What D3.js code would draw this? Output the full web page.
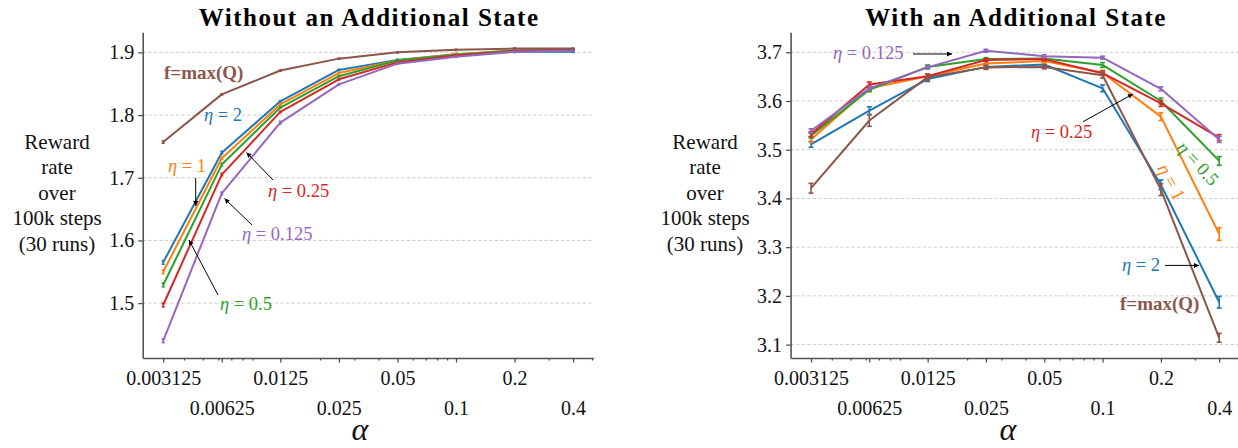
<!DOCTYPE html>
<html><head><meta charset="utf-8">
<script src="https://cdn.jsdelivr.net/npm/d3@7"></script>
<style>body{margin:0;background:#fff} svg{display:block} text{font-family:"Liberation Serif",serif}</style>
</head><body><svg id="c" width="1238" height="448"></svg>
<script>
// ---------- data ----------
const alphas = [0.003125, 0.00625, 0.0125, 0.025, 0.05, 0.1, 0.2, 0.4];
const alphaLabels = ["0.003125", "0.00625", "0.0125", "0.025", "0.05", "0.1", "0.2", "0.4"];
const minorTicks = [0.004, 0.005, 0.006, 0.007, 0.008, 0.009, 0.02, 0.03, 0.04, 0.06, 0.07, 0.08, 0.09, 0.3, 0.5];
const leftYTicks = [1.5, 1.6, 1.7, 1.8, 1.9];
const rightYTicks = [3.1, 3.2, 3.3, 3.4, 3.5, 3.6, 3.7];
const seriesNames = ["η = 2", "η = 1", "η = 0.5", "η = 0.25", "η = 0.125", "f=max(Q)"];
const seriesColors = ["#1f77b4", "#ff7f0e", "#2ca02c", "#d62728", "#9467bd", "#8c564b"];
const panelTitles = ["Without an Additional State", "With an Additional State"];
const yLabelLines = ["Reward", "rate", "over", "100k steps", "(30 runs)"];

// Without an additional state
const leftEta2    = [1.565, 1.740, 1.822, 1.872, 1.888, 1.897, 1.901, 1.901];
const leftEta1    = [1.550, 1.731, 1.817, 1.867, 1.887, 1.897, 1.903, 1.904];
const leftEta05   = [1.529, 1.721, 1.812, 1.862, 1.887, 1.896, 1.903, 1.904];
const leftEta025  = [1.497, 1.705, 1.805, 1.857, 1.884, 1.895, 1.902, 1.904];
const leftEta0125 = [1.440, 1.675, 1.788, 1.849, 1.882, 1.893, 1.901, 1.903];
const leftMaxQ    = [1.757, 1.833, 1.871, 1.890, 1.900, 1.904, 1.906, 1.906];
const leftErrEta2    = [0.003, 0.002, 0.001, 0.001, 0.001, 0.001, 0.001, 0.001];
const leftErrEta1    = [0.003, 0.002, 0.001, 0.001, 0.001, 0.001, 0.001, 0.001];
const leftErrEta05   = [0.003, 0.002, 0.001, 0.001, 0.001, 0.001, 0.001, 0.001];
const leftErrEta025  = [0.003, 0.002, 0.001, 0.001, 0.001, 0.001, 0.001, 0.001];
const leftErrEta0125 = [0.003, 0.002, 0.002, 0.001, 0.001, 0.001, 0.001, 0.001];
const leftErrMaxQ    = [0.002, 0.001, 0.001, 0.001, 0.001, 0.001, 0.001, 0.001];

// With an additional state
const rightEta2    = [3.511, 3.580, 3.645, 3.670, 3.675, 3.626, 3.428, 3.187];
const rightEta1    = [3.521, 3.626, 3.651, 3.677, 3.682, 3.658, 3.568, 3.327];
const rightEta05   = [3.529, 3.623, 3.670, 3.686, 3.687, 3.674, 3.600, 3.477];
const rightEta025  = [3.532, 3.634, 3.651, 3.684, 3.686, 3.657, 3.595, 3.525];
const rightEta0125 = [3.539, 3.626, 3.669, 3.703, 3.692, 3.689, 3.625, 3.521];
const rightMaxQ    = [3.421, 3.560, 3.649, 3.669, 3.670, 3.653, 3.418, 3.114];
const rightErrEta2    = [0.006, 0.008, 0.005, 0.004, 0.004, 0.007, 0.010, 0.012];
const rightErrEta1    = [0.006, 0.005, 0.004, 0.004, 0.004, 0.005, 0.008, 0.013];
const rightErrEta05   = [0.005, 0.004, 0.004, 0.003, 0.003, 0.005, 0.006, 0.009];
const rightErrEta025  = [0.005, 0.005, 0.004, 0.003, 0.003, 0.004, 0.006, 0.006];
const rightErrEta0125 = [0.004, 0.004, 0.003, 0.003, 0.003, 0.003, 0.004, 0.006];
const rightErrMaxQ    = [0.010, 0.012, 0.006, 0.004, 0.004, 0.006, 0.012, 0.009];

// ---------- drawing ----------
const svg = d3.select("#c");
const FONT = '"Liberation Serif", serif';
const defs = svg.append("defs");
defs.append("marker").attr("id", "ah").attr("viewBox", "0 0 10 10")
  .attr("refX", 10).attr("refY", 5).attr("markerWidth", 7).attr("markerHeight", 5)
  .attr("markerUnits", "userSpaceOnUse").attr("orient", "auto")
  .append("path").attr("d", "M0,0L10,5L0,10z").attr("fill", "#000");

const Y0 = 358, Y1 = 32.3;

function buildSeries(vals, errs) {
  return vals.map((v, i) => ({ name: seriesNames[i], color: seriesColors[i], values: v, errs: errs[i] }));
}

function panel(cfg) {
  const x = d3.scaleLog().base(2)
    .domain([alphas[0] * Math.pow(2, -0.35), alphas[alphas.length - 1] * Math.pow(2, 0.35)])
    .range(cfg.xr);
  const y = d3.scaleLinear().domain(cfg.yd).range([Y0, Y1]);
  const g = svg.append("g");

  // grid
  g.append("g").selectAll("line").data(cfg.yticks).join("line")
    .attr("x1", cfg.xr[0]).attr("x2", cfg.xr[1])
    .attr("y1", d => y(d)).attr("y2", d => y(d))
    .attr("stroke", "#cfcfcf").attr("stroke-width", 1).attr("stroke-dasharray", "3.5,2");

  // series
  const line = d3.line().x((d, i) => x(alphas[i])).y(d => y(d));
  cfg.series.forEach(s => {
    g.append("path").attr("d", line(s.values)).attr("fill", "none")
      .attr("stroke", s.color).attr("stroke-width", 2).attr("stroke-linejoin", "round");
    const eb = g.append("g").attr("stroke", s.color).attr("stroke-width", 1.6);
    s.values.forEach((v, i) => {
      const cx = x(alphas[i]), ya = y(v - s.errs[i]), yb = y(v + s.errs[i]);
      eb.append("line").attr("x1", cx).attr("x2", cx).attr("y1", ya).attr("y2", yb);
      eb.append("line").attr("x1", cx - cfg.cap).attr("x2", cx + cfg.cap).attr("y1", ya).attr("y2", ya);
      eb.append("line").attr("x1", cx - cfg.cap).attr("x2", cx + cfg.cap).attr("y1", yb).attr("y2", yb);
    });
  });

  // y axis
  const ya = g.append("g").attr("transform", `translate(${cfg.xr[0]},0)`)
    .call(d3.axisLeft(y).tickValues(cfg.yticks).tickFormat(d3.format(".1f"))
      .tickSize(4.5).tickSizeOuter(0).tickPadding(4));
  // minor x ticks
  const xm = g.append("g").attr("transform", `translate(0,${Y0})`)
    .call(d3.axisBottom(x).tickValues(minorTicks).tickFormat("").tickSize(2.5));
  xm.select(".domain").remove();
  // major x axis
  const xa = g.append("g").attr("transform", `translate(0,${Y0})`)
    .call(d3.axisBottom(x).tickValues(alphas).tickFormat((d, i) => alphaLabels[i])
      .tickSize(4.5).tickSizeOuter(0));
  xa.selectAll("text").attr("y", (d, i) => i % 2 === 0 ? 12.5 : 42.5).attr("dy", "0.71em");

  [ya, xa, xm].forEach(a => {
    a.attr("font-family", FONT).attr("font-size", 20);
    a.selectAll(".tick line").attr("stroke", "#444").attr("stroke-width", 1.2);
    a.selectAll("text").attr("fill", "#111");
    a.select(".domain").attr("stroke", "#555").attr("stroke-width", 1.6);
  });

  // title
  g.append("text").attr("x", (cfg.xr[0] + cfg.xr[1]) / 2 + 1).attr("y", 26)
    .attr("text-anchor", "middle").attr("font-weight", "bold").attr("font-size", 25)
    .attr("letter-spacing", "1.5px").attr("fill", "#000").text(cfg.title);

  // y label
  const yl = g.append("text").attr("text-anchor", "middle").attr("font-size", 21).attr("fill", "#111");
  yLabelLines.forEach((t, i) => {
    yl.append("tspan").attr("x", cfg.ylabX).attr("y", 148.5 + i * 25.6).text(t);
  });

  // x label
  g.append("text").attr("x", cfg.xlabX).attr("y", 440).attr("text-anchor", "middle")
    .attr("font-style", "italic").attr("font-size", 32).attr("fill", "#111").text("α");

  // annotations
  cfg.notes.forEach(n => {
    const t = g.append("text").attr("fill", seriesColors[n.s]).attr("font-size", 18.5);
    if (n.rot !== undefined) {
      t.attr("text-anchor", "middle").attr("dy", "0.35em")
        .attr("transform", `translate(${n.x},${n.y}) rotate(${n.rot})`);
    } else {
      t.attr("x", n.x).attr("y", n.y);
    }
    const name = seriesNames[n.s];
    if (name.startsWith("η")) {
      t.append("tspan").attr("font-style", "italic").text("η");
      t.append("tspan").text(name.slice(1));
    } else {
      t.attr("font-weight", "bold").attr("font-size", 19).text(name);
    }
    if (n.arrow) {
      g.append("line").attr("x1", n.arrow[0]).attr("y1", n.arrow[1])
        .attr("x2", n.arrow[2]).attr("y2", n.arrow[3])
        .attr("stroke", "#000").attr("stroke-width", 1).attr("marker-end", "url(#ah)");
    }
  });
}

panel({
  title: panelTitles[0],
  xr: [142.7, 593.6],
  yd: [1.4125, 1.932],
  yticks: leftYTicks,
  ylabX: 57,
  xlabX: 360,
  cap: 1.5,
  series: buildSeries([leftEta2, leftEta1, leftEta05, leftEta025, leftEta0125, leftMaxQ],
                      [leftErrEta2, leftErrEta1, leftErrEta05, leftErrEta025, leftErrEta0125, leftErrMaxQ]),
  notes: [
    { s: 5, x: 164, y: 79 },
    { s: 0, x: 204, y: 121 },
    { s: 1, x: 168, y: 171.5, arrow: [195.7, 178, 195.7, 206] },
    { s: 3, x: 268, y: 196.5, arrow: [273, 180, 246.5, 152.5] },
    { s: 4, x: 242, y: 240, arrow: [252, 225, 224.5, 198.5] },
    { s: 2, x: 220, y: 310, arrow: [218, 295, 189, 240] }
  ]
});

panel({
  title: panelTitles[1],
  xr: [790.6, 1239.6],
  yd: [3.0725, 3.741],
  yticks: rightYTicks,
  ylabX: 705,
  xlabX: 1008,
  cap: 2.5,
  series: buildSeries([rightEta2, rightEta1, rightEta05, rightEta025, rightEta0125, rightMaxQ],
                      [rightErrEta2, rightErrEta1, rightErrEta05, rightErrEta025, rightErrEta0125, rightErrMaxQ]),
  notes: [
    { s: 4, x: 833, y: 59, arrow: [913, 54, 952, 54] },
    { s: 3, x: 1031, y: 138.3, arrow: [1083, 121.7, 1133, 94] },
    { s: 0, x: 1122, y: 270.7, arrow: [1165, 265.4, 1199, 265.4] },
    { s: 5, x: 1120, y: 310 },
    { s: 2, x: 1198.3, y: 163.3, rot: 48 },
    { s: 1, x: 1171.7, y: 181.7, rot: 62 }
  ]
});
</script></body></html>
